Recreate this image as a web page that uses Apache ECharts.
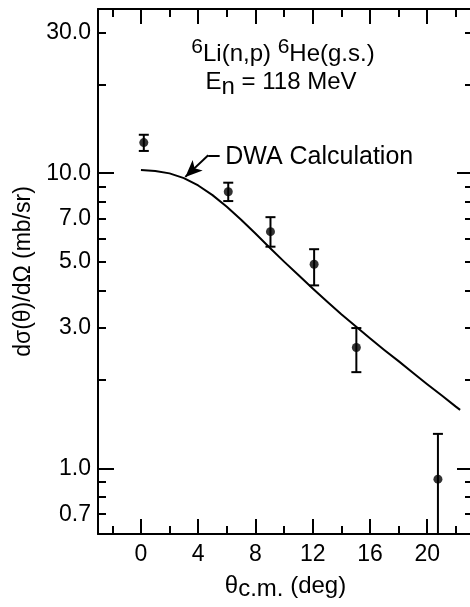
<!DOCTYPE html>
<html>
<head>
<meta charset="utf-8">
<script src="https://cdn.jsdelivr.net/npm/echarts@6.0.0/dist/echarts.min.js"></script>
<style>
  html, body { margin: 0; padding: 0; background: #fff; }
  #chart { width: 470px; height: 607px; }
</style>
</head>
<body>
<div id="chart"></div>
<script>
// DWA calculation curve
const dwaTheta = [0, 1, 2, 3, 4, 5, 6, 7, 8, 9, 10, 11, 12, 13, 14, 15, 16, 17, 18, 19, 20, 21, 22, 22.3]
const dwaSigma = [10.25, 10.18, 9.99, 9.63, 9.09, 8.43, 7.7, 6.96, 6.25, 5.59, 5.02, 4.52, 4.07, 3.68, 3.33, 3.03, 2.76, 2.52, 2.31, 2.11, 1.93, 1.77, 1.62, 1.58]

// measured points with error bars
const expTheta = [0.2, 6.1, 9.05, 12.1, 15.05, 20.75]
const expSigma = [12.7, 8.66, 6.34, 4.92, 2.57, 0.92]
const expLow = [11.9, 8.05, 5.64, 4.17, 2.12, 0.5]
const expHigh = [13.5, 9.29, 7.1, 5.53, 2.99, 1.31]

// ticks
const xLabelTicks = [0, 4, 8, 12, 16, 20]
const xMinorTicks = [-2, 2, 6, 10, 14, 18, 22]
const yLabelTicks = [0.7, 1, 3, 5, 7, 10, 30]
const yMajorTicks = [1, 10]
const yMinorTicks = [0.7, 0.8, 0.9, 2, 3, 4, 5, 6, 7, 8, 9, 20, 30]

const FONT = '"Liberation Sans", Arial, Helvetica, sans-serif'
const BLACK = '#000'

const chart = echarts.init(document.getElementById('chart'))

function xAxisOf (position, ticks, len, withLine, withLabel) {
  return {
    type: 'value',
    position: position,
    min: -3,
    max: 23.2,
    axisLine: { show: withLine, onZero: false, lineStyle: { color: BLACK, width: 2 } },
    axisTick: { show: true, inside: true, length: len, customValues: ticks, lineStyle: { color: BLACK, width: 2 } },
    axisLabel: withLabel
      ? { show: true, customValues: xLabelTicks, margin: 9, color: BLACK, fontFamily: FONT, fontSize: 23 }
      : { show: false },
    splitLine: { show: false }
  }
}

function yAxisOf (position, ticks, len, withLine, withLabel) {
  return {
    type: 'log',
    logBase: 10,
    position: position,
    min: 0.6,
    max: 36,
    axisLine: { show: withLine, onZero: false, lineStyle: { color: BLACK, width: 2 } },
    axisTick: { show: true, inside: true, length: len, customValues: ticks, lineStyle: { color: BLACK, width: 2 } },
    axisLabel: withLabel
      ? {
          show: true,
          customValues: yLabelTicks,
          margin: 7,
          color: BLACK,
          fontFamily: FONT,
          fontSize: 23,
          formatter: function (v) { return Number(v).toFixed(1) }
        }
      : { show: false },
    splitLine: { show: false },
    minorTick: { show: false }
  }
}

const xBottom = xAxisOf('bottom', xLabelTicks, 15, true, true)
xBottom.name = '{m|θ}{sub|c.m.}{m| (deg)}'
xBottom.nameLocation = 'middle'
xBottom.nameGap = 37
xBottom.nameTextStyle = {
  color: BLACK,
  rich: {
    m: { fontFamily: FONT, fontSize: 24, color: BLACK, lineHeight: 30 },
    sub: { fontFamily: FONT, fontSize: 24, color: BLACK, lineHeight: 15, verticalAlign: 'bottom' }
  }
}

const yLeft = yAxisOf('left', yMajorTicks, 16, true, true)
yLeft.name = 'dσ(θ)/dΩ (mb/sr)'
yLeft.nameLocation = 'middle'
yLeft.nameGap = 63
yLeft.nameTextStyle = { color: BLACK, fontFamily: FONT, fontSize: 23 }

function renderErrorBar (params, api) {
  const x = api.value(0)
  const top = api.coord([x, api.value(2)])
  const bot = api.coord([x, api.value(1)])
  const cap = 5
  const style = { stroke: BLACK, lineWidth: 2 }
  return {
    type: 'group',
    children: [
      { type: 'line', shape: { x1: top[0], y1: top[1], x2: bot[0], y2: bot[1] }, style: style },
      { type: 'line', shape: { x1: top[0] - cap, y1: top[1], x2: top[0] + cap, y2: top[1] }, style: style },
      { type: 'line', shape: { x1: bot[0] - cap, y1: bot[1], x2: bot[0] + cap, y2: bot[1] }, style: style }
    ]
  }
}

const option = {
  backgroundColor: '#fff',
  animation: false,
  grid: {
    left: 98,
    right: -3,
    top: 9,
    bottom: 73,
    containLabel: false,
    outerBoundsMode: 'none'
  },
  xAxis: [
    xBottom,
    xAxisOf('bottom', xMinorTicks, 8, false, false),
    xAxisOf('top', xLabelTicks, 15, true, false),
    xAxisOf('top', xMinorTicks, 8, false, false)
  ],
  yAxis: [
    yLeft,
    yAxisOf('left', yMinorTicks, 8, false, false),
    yAxisOf('right', yMajorTicks, 16, true, false),
    yAxisOf('right', yMinorTicks, 8, false, false)
  ],
  graphic: [
    {
      type: 'text',
      x: 283,
      y: 54,
      style: {
        text: '{sup|6}{m|Li(n,p) }{sup|6}{m|He(g.s.)}',
        align: 'center',
        verticalAlign: 'middle',
        textAlign: 'center',
        textVerticalAlign: 'middle',
        rich: {
          m: { fontFamily: FONT, fontSize: 24, fill: BLACK, lineHeight: 34 },
          sup: { fontFamily: FONT, fontSize: 21, fill: BLACK, lineHeight: 20, verticalAlign: 'top' }
        }
      }
    },
    {
      type: 'text',
      x: 281,
      y: 82,
      style: {
        text: '{m|E}{sub|n}{m| = 118 MeV}',
        align: 'center',
        verticalAlign: 'middle',
        textAlign: 'center',
        textVerticalAlign: 'middle',
        rich: {
          m: { fontFamily: FONT, fontSize: 24, fill: BLACK, lineHeight: 34 },
          sub: { fontFamily: FONT, fontSize: 24, fill: BLACK, lineHeight: 18, verticalAlign: 'bottom' }
        }
      }
    }
  ],
  series: [
    {
      name: 'DWA Calculation',
      type: 'line',
      smooth: false,
      showSymbol: false,
      lineStyle: { color: BLACK, width: 2, join: 'round' },
      data: dwaTheta.map(function (t, i) { return [t, dwaSigma[i]] }),
      markLine: {
        silent: true,
        animation: false,
        label: { show: false },
        lineStyle: { color: BLACK, width: 2, type: 'solid' },
        data: [
          [
            { coord: [5.5, 11.5], symbol: 'none' },
            { coord: [4.7, 11.5], symbol: 'none' }
          ],
          [
            { coord: [4.7, 11.5], symbol: 'none' },
            { coord: [3.1, 9.72], symbol: 'arrow', symbolSize: [11, 17] }
          ]
        ]
      },
      markPoint: {
        silent: true,
        symbol: 'circle',
        symbolSize: 1,
        itemStyle: { color: 'rgba(0,0,0,0)' },
        label: {
          show: true,
          position: 'right',
          distance: 0,
          formatter: 'DWA Calculation',
          color: BLACK,
          fontFamily: FONT,
          fontSize: 25
        },
        data: [{ coord: [5.85, 11.35] }]
      }
    },
    {
      name: 'errors',
      type: 'custom',
      clip: true,
      renderItem: renderErrorBar,
      data: expTheta.map(function (t, i) { return [t, expLow[i], expHigh[i]] }),
      z: 3
    },
    {
      name: 'data',
      type: 'scatter',
      symbol: 'circle',
      symbolSize: 9,
      itemStyle: { color: BLACK },
      data: expTheta.map(function (t, i) { return [t, expSigma[i]] }),
      z: 4
    }
  ]
}

chart.setOption(option)
</script>
</body>
</html>
